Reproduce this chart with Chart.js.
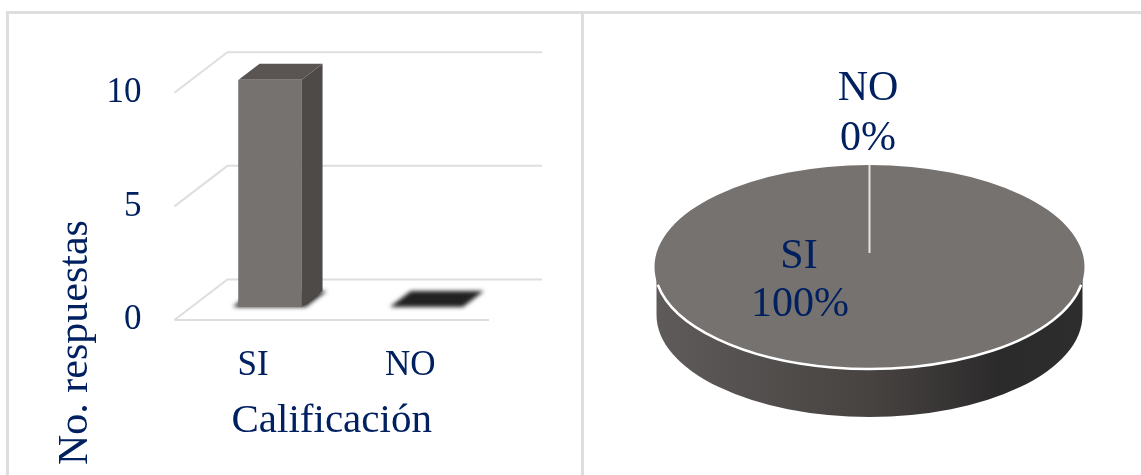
<!DOCTYPE html>
<html>
<head>
<meta charset="utf-8">
<script src="https://cdn.jsdelivr.net/npm/chart.js@4"></script>
<style>
    html, body { margin: 0; padding: 0; background: #fff; overflow: hidden; }
    #page { position: relative; width: 1141px; height: 475px; overflow: hidden; }
    .rule { position: absolute; background: #dedede; }
    canvas { position: absolute; top: 0; filter: blur(0.4px); }
</style>
</head>
<body>
<div id="page">
    <div class="rule" style="left:6px;top:11px;width:1135px;height:3px"></div>
    <div class="rule" style="left:6px;top:11px;width:3px;height:464px"></div>
    <div class="rule" style="left:581px;top:11px;width:3px;height:464px"></div>
    <canvas id="barChart" width="580" height="475" style="left:0"></canvas>
    <canvas id="pieChart" width="561" height="475" style="left:580px"></canvas>
</div>
<script>
const categories = ['SI', 'NO'];
const responses = [10, 0];
const yTicks = [0, 5, 10];
const xTitle = 'Calificación';
const yTitle = 'No. respuestas';

const TEXT = '#002060';
const SERIF = '"Liberation Serif", serif';

Chart.defaults.animation = false;
Chart.defaults.font.family = SERIF;
Chart.defaults.color = TEXT;

// 3D look for the columns: wall lines, floor, top and side faces
const WALL = { x: 53, y: -40.5 };
const BAR_SHIFT = { x: 17, y: -13 };
const BAR_DEPTH = { x: 21, y: -16 };

function face(ctx, points, color) {
    ctx.fillStyle = color;
    ctx.beginPath();
    points.forEach((p, i) => i ? ctx.lineTo(p[0], p[1]) : ctx.moveTo(p[0], p[1]));
    ctx.closePath();
    ctx.fill();
}

const columns3d = {
    id: 'columns3d',
    beforeDatasetsDraw(chart) {
        const { ctx, chartArea, scales } = chart;
        ctx.save();
        ctx.strokeStyle = '#dedede';
        ctx.lineWidth = 2;
        yTicks.forEach(v => {
            const y = scales.y.getPixelForValue(v);
            ctx.beginPath();
            ctx.moveTo(chartArea.left, y);
            ctx.lineTo(chartArea.left + WALL.x, y + WALL.y);
            ctx.lineTo(chartArea.right + WALL.x, y + WALL.y);
            ctx.stroke();
        });
        ctx.beginPath();
        ctx.moveTo(chartArea.left, scales.y.getPixelForValue(0));
        ctx.lineTo(chartArea.right, scales.y.getPixelForValue(0));
        ctx.stroke();

        ctx.translate(BAR_SHIFT.x, BAR_SHIFT.y);
        chart.getDatasetMeta(0).data.forEach(bar => {
            const l = bar.x - bar.width / 2, r = bar.x + bar.width / 2;
            // floor patch with soft edges
            ctx.save();
            ctx.filter = 'blur(2px)';
            face(ctx, [[l - 6, bar.base], [r + 4, bar.base], [r + 4 + BAR_DEPTH.x, bar.base + BAR_DEPTH.y], [l - 6 + BAR_DEPTH.x, bar.base + BAR_DEPTH.y]], '#212121');
            ctx.restore();
            if (bar.base - bar.y > 1) {
                face(ctx, [[r, bar.y], [r + BAR_DEPTH.x, bar.y + BAR_DEPTH.y], [r + BAR_DEPTH.x, bar.base + BAR_DEPTH.y], [r, bar.base]], '#4e4a48');
                face(ctx, [[l, bar.y], [r, bar.y], [r + BAR_DEPTH.x, bar.y + BAR_DEPTH.y], [l + BAR_DEPTH.x, bar.y + BAR_DEPTH.y]], '#5a5553');
            }
        });
    },
    afterDatasetsDraw(chart) {
        chart.ctx.restore();
    }
};

new Chart(document.getElementById('barChart'), {
    type: 'bar',
    data: {
        labels: categories,
        datasets: [{ data: responses, backgroundColor: '#767270', barThickness: 63 }]
    },
    options: {
        responsive: false,
        layout: { padding: { left: 51, right: 91, top: 92.7, bottom: 10 } },
        plugins: {
            legend: { display: false },
            tooltip: { enabled: false },
            title: {
                display: true,
                text: yTitle,
                position: 'left',
                align: 'start',
                padding: 0,
                color: TEXT,
                font: { size: 42, weight: 'normal' }
            }
        },
        scales: {
            x: {
                grid: { display: false },
                border: { display: false },
                ticks: { color: TEXT, font: { size: 35 }, padding: 17, maxRotation: 0 },
                title: { display: true, text: xTitle, color: TEXT, font: { size: 41 }, padding: { top: 0, bottom: 19 } },
                afterFit(scale) { scale.height = 145; }
            },
            y: {
                min: 0,
                max: 10,
                grid: { display: false },
                border: { display: false },
                ticks: { color: TEXT, font: { size: 35 }, padding: 25 },
                afterBuildTicks(scale) { scale.ticks = yTicks.map(v => ({ value: v })); },
                afterFit(scale) { scale.width = 73; }
            }
        }
    },
    plugins: [columns3d]
});

// Pie lying flat: squashed disc, side wall, white rim and slice divider
const pieLabels = ['SI', 'NO'];
const pieValues = [10, 0];

const PIE_CENTER_SHIFT = 29.5;
const PIE_SQUASH = 102 / 215;
const PIE_WALL = 48;
const PIE_LABEL_POS = [{ x: 219, y: 257, gap: 48 }, { x: 288, y: 89, gap: 50 }];

const pie3d = {
    id: 'pie3d',
    beforeDatasetsDraw(chart) {
        const { ctx } = chart;
        const arc = chart.getDatasetMeta(0).data[0];
        const cx = arc.x, cy = arc.y + PIE_CENTER_SHIFT;
        const rx = arc.outerRadius, ry = rx * PIE_SQUASH, wallRx = rx - 2;

        const wall = ctx.createLinearGradient(cx - rx, 0, cx + rx, 0);
        wall.addColorStop(0, '#5f5b5a');
        wall.addColorStop(0.5, '#474341');
        wall.addColorStop(0.8, '#2c2b2b');
        wall.addColorStop(1, '#2e2d2d');
        ctx.fillStyle = wall;
        ctx.beginPath();
        ctx.moveTo(cx - wallRx, cy);
        ctx.lineTo(cx - wallRx, cy + PIE_WALL);
        ctx.ellipse(cx, cy + PIE_WALL, wallRx, ry, 0, Math.PI, 0, true);
        ctx.lineTo(cx + wallRx, cy);
        ctx.closePath();
        ctx.fill();

        ctx.save();
        ctx.translate(cx, cy);
        ctx.scale(1, PIE_SQUASH);
        ctx.translate(-arc.x, -arc.y);
    },
    afterDatasetsDraw(chart) {
        const { ctx } = chart;
        ctx.restore();
        const meta = chart.getDatasetMeta(0);
        const arc = meta.data[0];
        const cx = arc.x, cy = arc.y + PIE_CENTER_SHIFT;
        const rx = arc.outerRadius, ry = rx * PIE_SQUASH;

        ctx.strokeStyle = '#ffffff';
        ctx.lineWidth = 2.5;
        ctx.beginPath();
        ctx.ellipse(cx, cy, rx, ry, 0, 10 * Math.PI / 180, 170 * Math.PI / 180);
        ctx.stroke();

        ctx.strokeStyle = '#e4e4e4';
        ctx.lineWidth = 2;
        ctx.beginPath();
        ctx.moveTo(cx, cy - ry);
        ctx.lineTo(cx, cy - 14);
        ctx.stroke();

        const total = pieValues.reduce((a, b) => a + b, 0);
        ctx.fillStyle = TEXT;
        ctx.font = '42px ' + SERIF;
        ctx.textAlign = 'center';
        ctx.textBaseline = 'middle';
        pieLabels.forEach((name, i) => {
            const pos = PIE_LABEL_POS[i];
            ctx.fillText(name, pos.x, pos.y);
            ctx.fillText(Math.round(pieValues[i] / total * 100) + '%', pos.x + (i ? 0 : 1), pos.y + pos.gap);
        });
    }
};

new Chart(document.getElementById('pieChart'), {
    type: 'pie',
    data: {
        labels: pieLabels,
        datasets: [{ data: pieValues, backgroundColor: ['#767270', '#3a3a3a'], borderWidth: 0, radius: 215 }]
    },
    options: {
        responsive: false,
        layout: { padding: { left: 18 } },
        plugins: {
            legend: { display: false },
            tooltip: { enabled: false }
        }
    },
    plugins: [pie3d]
});
</script>
</body>
</html>
